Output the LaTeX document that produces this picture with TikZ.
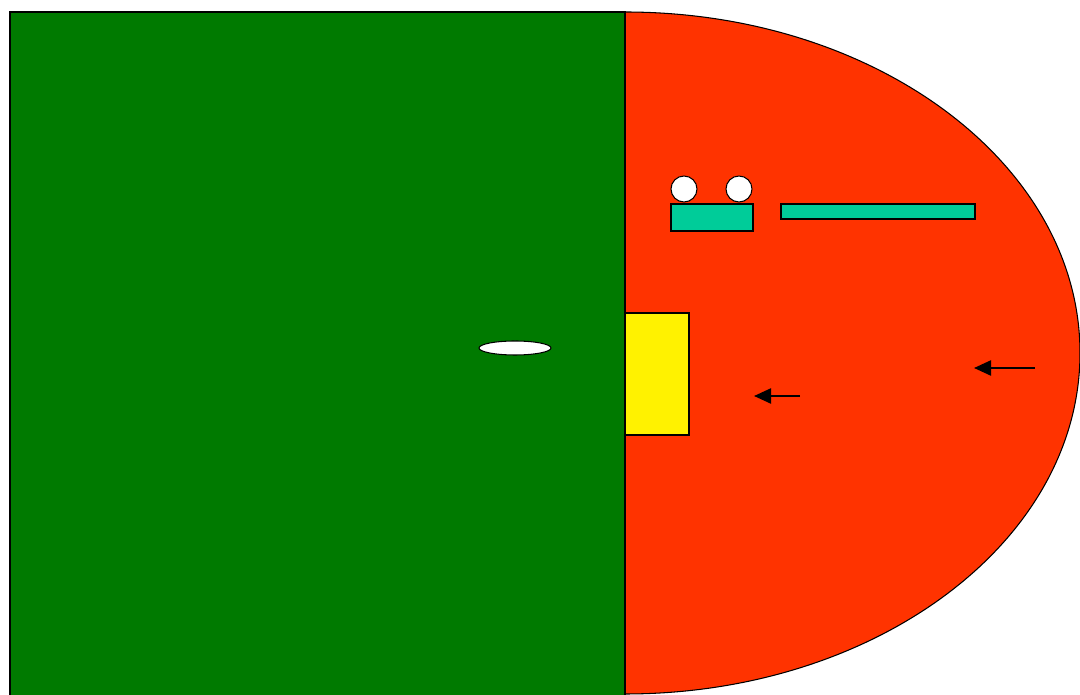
\documentclass[tikz,border=0pt]{standalone}
\usepackage{xcolor}
\usepackage{tikz}
\usetikzlibrary{arrows.meta}

\definecolor{fieldgreen}{RGB}{0,122,0}
\definecolor{zonered}{RGB}{255,51,0}
\definecolor{benchteal}{RGB}{0,204,153}

\begin{document}
\begin{tikzpicture}[
  x=0.02cm, y=-0.02cm,
  part/.style={draw=black, line width=0.6pt},
  bench/.style={part, fill=benchteal},
  ball/.style={part, fill=white},
  arr/.style={-{Triangle[length=3.4mm, width=3mm]}, line width=1.3pt, draw=black}]
\useasboundingbox (0,0) rectangle (1080,695);
\begin{scope}
\clip (0,0) rectangle (1080,695);
\fill[zonered, draw=black, line width=0.6pt] (625,353) ellipse [x radius=455, y radius=341];
\fill[fieldgreen, draw=black, line width=0.6pt] (10,12) rectangle (625,720);
\end{scope}
% goal area and centre spot
\draw[part, fill=yellow] (625,313) rectangle (689,435);
\draw[ball] (515,348) ellipse [x radius=36, y radius=7];
% benches
\draw[bench] (671,204) rectangle (753,231);
\draw[bench] (781,204) rectangle (975,219);
\draw[ball] (684,189) circle (13);
\draw[ball] (739,189) circle (13);
% direction of play
\coordinate (a1s) at (800,396); \coordinate (a1e) at (754,396);
\coordinate (a2s) at (1035,368); \coordinate (a2e) at (974,368);
\draw[arr] (a1s) -- (a1e);
\draw[arr] (a2s) -- (a2e);
\end{tikzpicture}
\end{document}
